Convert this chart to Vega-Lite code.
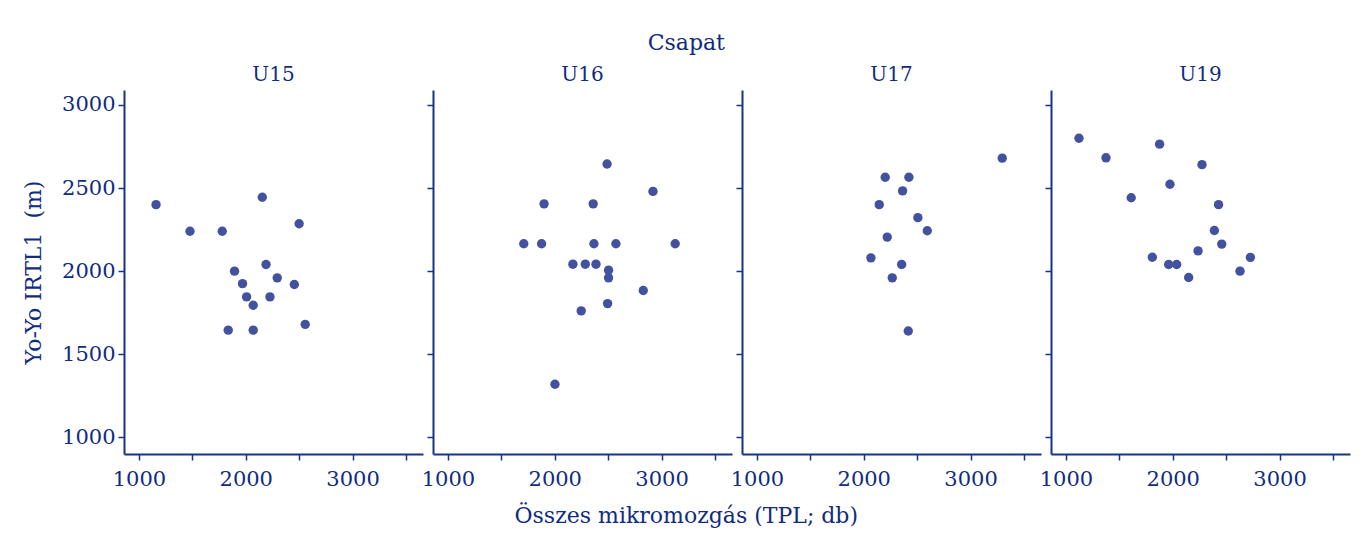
{
  "$schema": "https://vega.github.io/schema/vega-lite/v6.json",
  "background": "white",
  "padding": {"left": 22, "top": 32, "right": 10, "bottom": 5},
  "data": {
    "values": [
      {"csapat": "U15", "tpl": 1160, "yoyo": 2400},
      {"csapat": "U15", "tpl": 2155, "yoyo": 2445},
      {"csapat": "U15", "tpl": 1478, "yoyo": 2240},
      {"csapat": "U15", "tpl": 1780, "yoyo": 2240},
      {"csapat": "U15", "tpl": 2500, "yoyo": 2285},
      {"csapat": "U15", "tpl": 2190, "yoyo": 2040},
      {"csapat": "U15", "tpl": 1895, "yoyo": 2000},
      {"csapat": "U15", "tpl": 2295, "yoyo": 1960},
      {"csapat": "U15", "tpl": 1970, "yoyo": 1925},
      {"csapat": "U15", "tpl": 2455, "yoyo": 1920},
      {"csapat": "U15", "tpl": 2008, "yoyo": 1845},
      {"csapat": "U15", "tpl": 2227, "yoyo": 1845},
      {"csapat": "U15", "tpl": 2070, "yoyo": 1795},
      {"csapat": "U15", "tpl": 2557, "yoyo": 1680},
      {"csapat": "U15", "tpl": 1836, "yoyo": 1645},
      {"csapat": "U15", "tpl": 2070, "yoyo": 1645},
      {"csapat": "U16", "tpl": 2490, "yoyo": 2645},
      {"csapat": "U16", "tpl": 2920, "yoyo": 2480},
      {"csapat": "U16", "tpl": 1900, "yoyo": 2405},
      {"csapat": "U16", "tpl": 2360, "yoyo": 2405},
      {"csapat": "U16", "tpl": 1710, "yoyo": 2165},
      {"csapat": "U16", "tpl": 1877, "yoyo": 2165},
      {"csapat": "U16", "tpl": 2367, "yoyo": 2165},
      {"csapat": "U16", "tpl": 2573, "yoyo": 2165},
      {"csapat": "U16", "tpl": 3128, "yoyo": 2165},
      {"csapat": "U16", "tpl": 2170, "yoyo": 2042},
      {"csapat": "U16", "tpl": 2286, "yoyo": 2042},
      {"csapat": "U16", "tpl": 2386, "yoyo": 2042},
      {"csapat": "U16", "tpl": 2504, "yoyo": 2006},
      {"csapat": "U16", "tpl": 2504, "yoyo": 1960},
      {"csapat": "U16", "tpl": 2829, "yoyo": 1884},
      {"csapat": "U16", "tpl": 2495, "yoyo": 1805},
      {"csapat": "U16", "tpl": 2248, "yoyo": 1761},
      {"csapat": "U16", "tpl": 2002, "yoyo": 1320},
      {"csapat": "U17", "tpl": 3297, "yoyo": 2680},
      {"csapat": "U17", "tpl": 2201, "yoyo": 2565},
      {"csapat": "U17", "tpl": 2423, "yoyo": 2565},
      {"csapat": "U17", "tpl": 2364, "yoyo": 2483},
      {"csapat": "U17", "tpl": 2145, "yoyo": 2400},
      {"csapat": "U17", "tpl": 2507, "yoyo": 2322},
      {"csapat": "U17", "tpl": 2595, "yoyo": 2243},
      {"csapat": "U17", "tpl": 2220, "yoyo": 2205},
      {"csapat": "U17", "tpl": 2067, "yoyo": 2080},
      {"csapat": "U17", "tpl": 2355, "yoyo": 2040},
      {"csapat": "U17", "tpl": 2267, "yoyo": 1960},
      {"csapat": "U17", "tpl": 2417, "yoyo": 1640},
      {"csapat": "U19", "tpl": 1122, "yoyo": 2800},
      {"csapat": "U19", "tpl": 1375, "yoyo": 2682},
      {"csapat": "U19", "tpl": 1877, "yoyo": 2764},
      {"csapat": "U19", "tpl": 2274, "yoyo": 2641},
      {"csapat": "U19", "tpl": 1974, "yoyo": 2523},
      {"csapat": "U19", "tpl": 1611, "yoyo": 2442},
      {"csapat": "U19", "tpl": 2429, "yoyo": 2400},
      {"csapat": "U19", "tpl": 2390, "yoyo": 2245},
      {"csapat": "U19", "tpl": 2459, "yoyo": 2163},
      {"csapat": "U19", "tpl": 2237, "yoyo": 2122},
      {"csapat": "U19", "tpl": 2727, "yoyo": 2083},
      {"csapat": "U19", "tpl": 1809, "yoyo": 2084},
      {"csapat": "U19", "tpl": 1962, "yoyo": 2040},
      {"csapat": "U19", "tpl": 2037, "yoyo": 2040},
      {"csapat": "U19", "tpl": 2630, "yoyo": 2000},
      {"csapat": "U19", "tpl": 2149, "yoyo": 1962}
    ]
  },
  "title": {"text": "Csapat", "anchor": "middle", "fontSize": 22, "fontWeight": "normal", "offset": 10},
  "vconcat": [
    {
      "title": {"text": "Összes mikromozgás (TPL; db)", "orient": "bottom", "anchor": "middle", "fontSize": 22, "fontWeight": "normal", "offset": 17},
      "bounds": "flush",
      "spacing": 10,
      "hconcat": [
        {
          "title": "U15",
          "width": 299, "height": 364,
          "transform": [{"filter": "datum.csapat === 'U15'"}],
          "mark": {"type": "circle", "size": 88, "opacity": 1, "color": "#43529e"},
          "encoding": {
            "x": {"field": "tpl", "type": "quantitative", "scale": {"domain": [860, 3660], "nice": false, "zero": false},
                  "axis": {"title": null, "values": [1000, 1500, 2000, 2500, 3000, 3500], "labelExpr": "datum.value % 1000 === 0 ? datum.label : ''"}},
            "y": {"field": "yoyo", "type": "quantitative", "scale": {"domain": [900, 3090], "nice": false, "zero": false},
                  "axis": {"title": "Yo-Yo IRTL1\u00a0\u00a0(m)", "values": [1000, 1500, 2000, 2500, 3000]}}
          }
        },
        {
          "title": "U16",
          "width": 299, "height": 364,
          "transform": [{"filter": "datum.csapat === 'U16'"}],
          "mark": {"type": "circle", "size": 88, "opacity": 1, "color": "#43529e"},
          "encoding": {
            "x": {"field": "tpl", "type": "quantitative", "scale": {"domain": [860, 3660], "nice": false, "zero": false},
                  "axis": {"title": null, "values": [1000, 1500, 2000, 2500, 3000, 3500], "labelExpr": "datum.value % 1000 === 0 ? datum.label : ''"}},
            "y": {"field": "yoyo", "type": "quantitative", "scale": {"domain": [900, 3090], "nice": false, "zero": false},
                  "axis": {"title": null, "labels": false, "values": [1000, 1500, 2000, 2500, 3000]}}
          }
        },
        {
          "title": "U17",
          "width": 299, "height": 364,
          "transform": [{"filter": "datum.csapat === 'U17'"}],
          "mark": {"type": "circle", "size": 88, "opacity": 1, "color": "#43529e"},
          "encoding": {
            "x": {"field": "tpl", "type": "quantitative", "scale": {"domain": [860, 3660], "nice": false, "zero": false},
                  "axis": {"title": null, "values": [1000, 1500, 2000, 2500, 3000, 3500], "labelExpr": "datum.value % 1000 === 0 ? datum.label : ''"}},
            "y": {"field": "yoyo", "type": "quantitative", "scale": {"domain": [900, 3090], "nice": false, "zero": false},
                  "axis": {"title": null, "labels": false, "values": [1000, 1500, 2000, 2500, 3000]}}
          }
        },
        {
          "title": "U19",
          "width": 299, "height": 364,
          "transform": [{"filter": "datum.csapat === 'U19'"}],
          "mark": {"type": "circle", "size": 88, "opacity": 1, "color": "#43529e"},
          "encoding": {
            "x": {"field": "tpl", "type": "quantitative", "scale": {"domain": [860, 3660], "nice": false, "zero": false},
                  "axis": {"title": null, "values": [1000, 1500, 2000, 2500, 3000, 3500], "labelExpr": "datum.value % 1000 === 0 ? datum.label : ''"}},
            "y": {"field": "yoyo", "type": "quantitative", "scale": {"domain": [900, 3090], "nice": false, "zero": false},
                  "axis": {"title": null, "labels": false, "values": [1000, 1500, 2000, 2500, 3000]}}
          }
        }
      ]
    }
  ],
  "config": {
    "font": "DejaVu Serif",
    "view": {"stroke": null},
    "title": {"color": "#102c80", "font": "DejaVu Serif", "fontSize": 20, "fontWeight": "normal", "offset": 5},
    "axis": {
      "grid": false,
      "domainColor": "#17338a",
      "domainWidth": 2,
      "tickColor": "#17338a",
      "tickWidth": 1.5,
      "tickSize": 6,
      "labelColor": "#102c80",
      "labelFont": "DejaVu Serif",
      "labelFontSize": 21,
      "labelPadding": 3,
      "titleColor": "#102c80",
      "titleFont": "DejaVu Serif",
      "titleFontSize": 22,
      "titleFontWeight": "normal",
      "format": "d"
    },
    "axisX": {"labelPadding": 8},
    "axisY": {"titlePadding": 16}
  }
}
